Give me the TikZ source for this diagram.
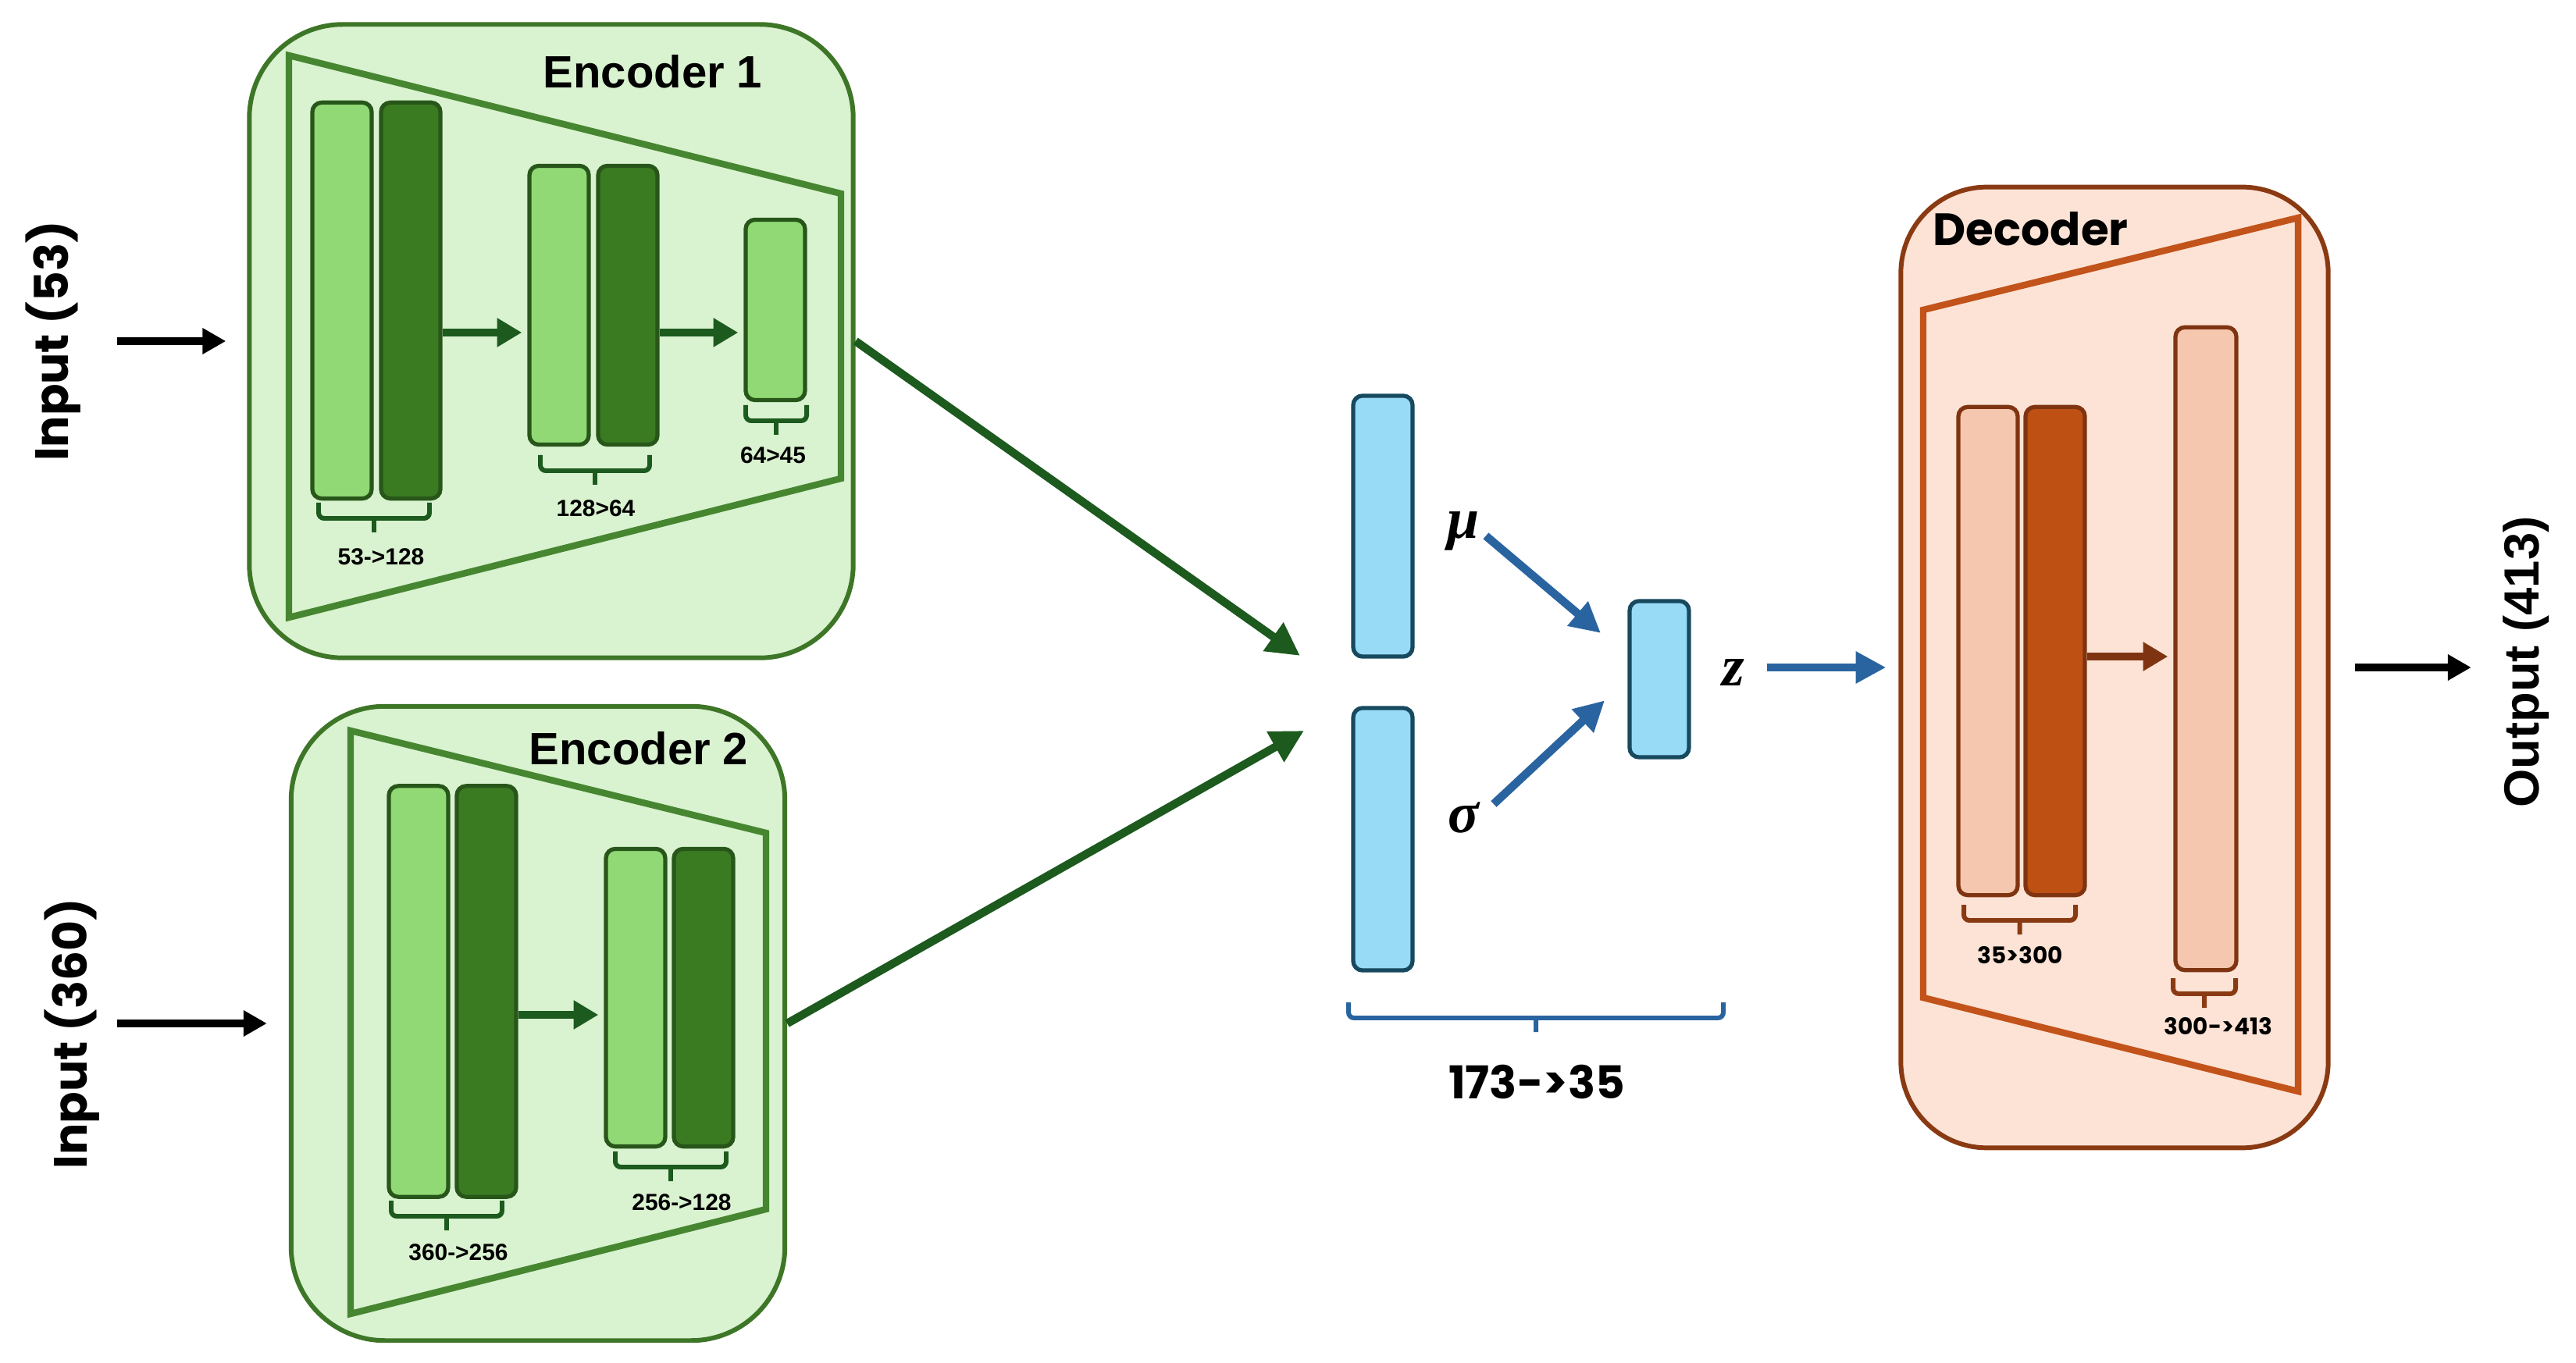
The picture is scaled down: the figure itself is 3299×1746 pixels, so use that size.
\documentclass[tikz,border=0pt]{standalone}
\usepackage{fontspec}
\setmainfont{Liberation Sans}
\newfontfamily\pop{Poppins}
\newfontfamily\serifml{Liberation Serif}
\usetikzlibrary{arrows.meta}

\definecolor{gfill}{HTML}{D9F2D0}
\definecolor{gline}{HTML}{3E7628}
\definecolor{gtrap}{HTML}{468630}
\definecolor{glight}{HTML}{90D975}
\definecolor{gdark}{HTML}{3A7B22}
\definecolor{gedge}{HTML}{28561A}
\definecolor{garr}{HTML}{1C5A1E}
\definecolor{bfill}{HTML}{97DBF7}
\definecolor{bedge}{HTML}{17495F}
\definecolor{barr}{HTML}{2A64A0}
\definecolor{dfill}{HTML}{FCE3D6}
\definecolor{dline}{HTML}{8A3A12}
\definecolor{dtrap}{HTML}{C2531A}
\definecolor{dlight}{HTML}{F5C7AE}
\definecolor{ddark}{HTML}{BF5014}
\definecolor{dedge}{HTML}{7F3411}

% bracket under a group of layers: style, x1, x2, top
\newcommand{\brk}[4]{\draw[brace, #1] (#2,#4) -- (#2,{#4+20}) -- (#3,{#4+20}) -- (#3,#4)
    ({(#2+#3)/2},{#4+20}) -- ++(0,18);}

\begin{document}
\begin{tikzpicture}[x=0.01cm, y=-0.01cm,
    encbox/.style={draw=gline, fill=gfill, line width=1.7pt, rounded corners=1.2cm},
    decbox/.style={draw=dline, fill=dfill, line width=1.7pt, rounded corners=1.1cm},
    bar/.style={line width=1.5pt, rounded corners=0.12cm, minimum width=0.76cm, inner sep=0},
    gl/.style={bar, draw=gedge, fill=glight},
    gd/.style={bar, draw=gedge, fill=gdark},
    bl/.style={bar, draw=bedge, fill=bfill},
    dl/.style={bar, draw=dedge, fill=dlight},
    dd/.style={bar, draw=dedge, fill=ddark},
    brace/.style={line width=1.7pt, rounded corners=2pt},
    title/.style={font=\fontsize{16.5}{20}\selectfont\bfseries, inner sep=0},
    ptitle/.style={font=\pop\fontsize{16.5}{20}\selectfont\bfseries, inner sep=0},
    small/.style={font=\fontsize{8.5}{10}\selectfont\bfseries, inner sep=0},
    psmall/.style={font=\pop\fontsize{8.4}{10}\selectfont\bfseries, inner sep=0},
    mlab/.style={font=\serifml\fontsize{21}{25}\selectfont\bfseries\itshape, inner sep=0},
    garrow/.style={color=garr, line width=3pt, -{Triangle[length=9pt,width=10pt]}},
    garrowb/.style={color=garr, line width=3pt, -{Triangle[length=12pt,width=12pt]}},
    barrow/.style={color=barr, line width=3pt, -{Triangle[length=11pt,width=11pt]}},
    darrow/.style={color=dedge, line width=3pt, -{Triangle[length=9pt,width=10pt]}},
    karrow/.style={color=black, line width=2.9pt, -{Triangle[length=8.5pt,width=9pt]}}]
    \useasboundingbox (0,0) rectangle (3299,1746);

    % encoder 1
    \node[encbox, minimum width=7.73cm, minimum height=8.11cm] at (706, 437)(enc1){};
    \draw[gtrap, line width=2.4pt] (370,71) -- (1077,248) -- (1077,613) -- (370,791) -- cycle;
    \node[title] at (836, 92)(t1){Encoder 1};
    \node[gl, minimum height=5.07cm] at (438, 385)(e1a){};
    \node[gd, minimum height=5.07cm] at (526, 385)(e1b){};
    \node[gl, minimum height=3.57cm] at (716, 391)(e1c){};
    \node[gd, minimum height=3.57cm] at (804, 391)(e1d){};
    \node[gl, minimum height=2.31cm] at (993, 397)(e1e){};
    \brk{garr}{408}{550}{644}
    \brk{garr}{692}{832}{583}
    \brk{garr}{955}{1033}{519}
    \node[small] at (488, 713)(s1){53->128};
    \node[small] at (763, 651)(s2){128>64};
    \node[small] at (990, 583)(s3){64>45};

    % encoder 2
    \node[encbox, minimum width=6.32cm, minimum height=8.12cm] at (689, 1311)(enc2){};
    \draw[gtrap, line width=2.4pt] (449,936) -- (981,1067) -- (981,1549) -- (449,1683) -- cycle;
    \node[title] at (818, 959)(t2){Encoder 2};
    \node[gl, minimum height=5.26cm] at (536, 1270)(e2a){};
    \node[gd, minimum height=5.26cm] at (623, 1270)(e2b){};
    \node[gl, minimum height=3.81cm] at (814, 1278)(e2c){};
    \node[gd, minimum height=3.81cm] at (901, 1278)(e2d){};
    \brk{garr}{501}{643}{1538}
    \brk{garr}{788}{930}{1475}
    \node[small] at (587, 1604)(s4){360->256};
    \node[small] at (873, 1540)(s5){256->128};

    % inputs
    \node[ptitle, font=\pop\fontsize{17}{20}\selectfont\bfseries, rotate=90] at (68, 437)(in1){Input (53)};
    \node[ptitle, font=\pop\fontsize{17}{20}\selectfont\bfseries, rotate=90] at (92, 1324)(in2){Input (360)};

    % latent
    \node[bl, minimum height=3.34cm] at (1771, 674)(mu){};
    \node[bl, minimum height=3.36cm] at (1771, 1075)(sg){};
    \node[bl, minimum height=2.00cm] at (2125, 870)(z){};
    \node[mlab] at (1874, 680)(mul){μ};
    \node[mlab] at (1874, 1047)(sgl){σ};
    \node[mlab] at (2220, 862)(zl){z};
    \brk{barr}{1727}{2207}{1284}
    \node[ptitle] at (1968, 1386)(s6){173->35};
    \coordinate (m1) at (1665, 840);
    \coordinate (m2) at (1670, 936);

    % decoder
    \node[decbox, minimum width=5.47cm, minimum height=12.30cm] at (2708, 855)(dec){};
    \draw[dtrap, line width=2.4pt] (2463,397) -- (2943,279) -- (2943,1398) -- (2463,1278) -- cycle;
    \node[ptitle, anchor=west] at (2475, 293)(t3){Decoder};
    \node[dl, minimum height=6.25cm] at (2546, 834)(d1){};
    \node[dd, minimum height=6.25cm] at (2632, 834)(d2){};
    \node[dl, minimum height=8.23cm, minimum width=0.78cm] at (2825, 831)(d3){};
    \brk{dline}{2515}{2658}{1159}
    \brk{dline}{2783}{2863}{1253}
    \node[psmall] at (2587, 1224)(s7){35>300};
    \node[psmall] at (2841, 1315)(s8){300->413};
    \node[title, font=\fontsize{18}{22}\selectfont\bfseries, rotate=90] at (3235, 848)(outl){Output (413)};

    \path[garrow]
        (e1b.east |- 0,426) edge[shorten >=2pt] (e1c.west |- 0,426)
        (e1d.east |- 0,426) edge[shorten >=2pt] (e1e.west |- 0,426)
        (e2b.east |- 0,1300) edge[shorten >=2pt] (e2c.west |- 0,1300)
        ;
    \path[garrowb]
        (enc1.east) edge (m1)
        (enc2.east) edge (m2)
        ;
    \path[karrow]
        (in1.south |- enc1) edge[shorten <=0.46cm, shorten >=0.27cm] (enc1)
        (in2.south |- enc2) edge[shorten <=0.22cm, shorten >=0.28cm] (enc2)
        (dec.east) edge[shorten <=0.31cm, shorten >=0.40cm] (dec.east -| outl.north)
        ;
    \path[barrow]
        (mul.east) edge[shorten <=0.1cm, shorten >=0.45cm] ([yshift=0.3cm]z.west)
        (sgl.east) edge[shorten <=0.25cm, shorten >=0.4cm] (z.west)
        (zl.east |- dec) edge[shorten <=0.28cm, shorten >=0.16cm] (dec.west)
        ;
    \path[darrow]
        (d2.east |- 0,841) edge[shorten >=2pt] (d3.west |- 0,841)
        ;
\end{tikzpicture}
\end{document}
